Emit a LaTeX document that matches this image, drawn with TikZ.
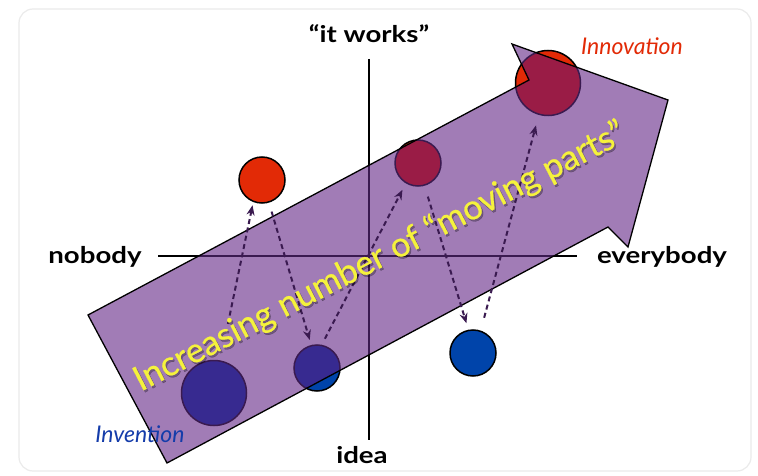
\documentclass[tikz,border=0pt]{standalone}
\usepackage{fontspec}
\setmainfont{Lato}
\newfontfamily\lblfont[FakeStretch=1.2]{Lato}
\newfontfamily\itfont{Lato}
\newfontfamily\bigfont[FakeBold=0.6]{Lato}
\usetikzlibrary{arrows.meta}
\definecolor{redc}{RGB}{226,42,6}
\definecolor{bluec}{RGB}{0,68,170}
\definecolor{dredc}{RGB}{154,28,70}
\definecolor{dbluc}{RGB}{55,42,144}
\definecolor{purp}{RGB}{161,124,182}
\definecolor{dpurp}{RGB}{58,26,80}
\definecolor{yel}{RGB}{245,242,60}
\definecolor{invblue}{RGB}{20,60,170}
\tikzset{
  axisline/.style={line width=1.8pt},
  ball/.style={circle, inner sep=0pt, outer sep=0pt, draw=black, line width=1.5pt},
  smallball/.style={ball, minimum size=46pt},
  bigball/.style={ball, minimum size=65pt},
  dasharrow/.style={draw=dpurp, line width=2pt, dash pattern=on 5pt off 3.5pt, -{Stealth[length=10pt,width=8pt]}},
  lbl/.style={font=\lblfont\bfseries\fontsize{23}{25}\selectfont, anchor=base, inner sep=0pt},
  itlbl/.style={font=\itfont\itshape\fontsize{23}{25}\selectfont, anchor=base, inner sep=0pt},
  bigtext/.style={font=\bigfont\fontsize{34.5}{37}\selectfont, anchor=base, inner sep=0pt, rotate=27.3}
}
\begin{document}
\begin{tikzpicture}[x=1pt,y=-1pt]
\useasboundingbox (0,0) rectangle (758,476);
\fill[white] (0,0) rectangle (758,476);
\draw[black!8, line width=1.2pt, rounded corners=14pt] (19,9) rectangle (751,471);
% axes
\coordinate (vtop) at (369,59);
\coordinate (vbot) at (369,440);
\coordinate (hl) at (158,256);
\coordinate (hr) at (577,256);
\draw[axisline] (vtop) -- (vbot);
\draw[axisline] (hl) -- (hr);
% circles
\node[smallball, fill=redc] (red1) at (262,180) {};
\node[smallball, fill=redc] (dred) at (418,163) {};
\node[bigball, fill=redc] (innov) at (548,83) {};
\node[bigball, fill=bluec] (big) at (214,393) {};
\node[smallball, fill=bluec] (small) at (317,368) {};
\node[smallball, fill=bluec] (blue2) at (473,353) {};
% big arrow
\def\arrowpath{(88,315) -- (529,80) -- (512,44) -- (668,100) -- (628,247) -- (608,227) -- (167,463) -- cycle}
\fill[purp] \arrowpath;
\begin{scope}
  \clip \arrowpath;
  \draw[axisline, dpurp] (vtop) -- (vbot);
  \draw[axisline, dpurp] (hl) -- (hr);
  \filldraw[fill=dredc, draw=dpurp, line width=1.5pt] (dred.center) circle[radius=23pt];
  \filldraw[fill=dredc, draw=dpurp, line width=1.5pt] (innov.center) circle[radius=32.5pt];
  \filldraw[fill=dbluc, draw=dpurp, line width=1.5pt] (big.center) circle[radius=32.5pt];
  \filldraw[fill=dbluc, draw=dpurp, line width=1.5pt] (small.center) circle[radius=23pt];
\end{scope}
\draw[black, line width=1.3pt, line join=miter] \arrowpath;
% dashed connectors
\draw[dasharrow, shorten <=38pt, shorten >=4pt] (big.79) -- (red1.248);
\draw[dasharrow, shorten <=10pt, shorten >=6pt] (red1.287) -- (small.104);
\draw[dasharrow, shorten <=7.5pt, shorten >=8pt] (small.79) -- (dred.239);
\draw[dasharrow, shorten <=12pt, shorten >=7.5pt] (dred.286) -- (blue2.101);
\draw[dasharrow, shorten <=14pt, shorten >=11.5pt] (blue2.71) -- (innov.254);
% big text with soft shadow
\node[bigtext, text=black, opacity=0.3] (shadowtxt) at (386,268) {Increasing number of “moving parts”};
\node[bigtext, text=yel] (maintxt) at (384.5,266) {Increasing number of “moving parts”};
% labels
\node[lbl] (works) at (369,43) {“it works”};
\node[lbl] (nobody) at (95,263) {nobody};
\node[lbl] (everybody) at (662,263) {everybody};
\node[lbl] (idea) at (362,463) {idea};
\node[itlbl, text=redc] (innovlbl) at (632,55) {Innovation};
\node[itlbl, text=invblue] (inventlbl) at (140,442) {Invention};
\end{tikzpicture}
\end{document}
